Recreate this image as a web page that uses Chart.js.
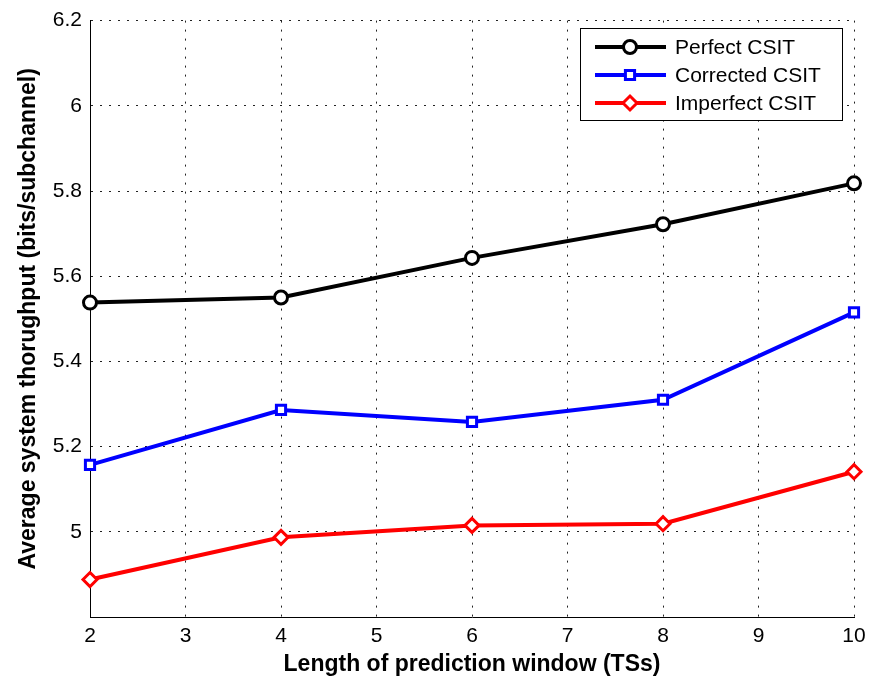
<!DOCTYPE html>
<html>
<head>
<meta charset="utf-8">
<script src="https://cdn.jsdelivr.net/npm/chart.js@4.4.0/dist/chart.umd.min.js"></script>
<style>
  html, body { margin: 0; padding: 0; background: #fff; }
  canvas { display: block; }
</style>
</head>
<body>
<canvas id="myChart" width="877" height="679"></canvas>
<script>
// data
const windowLengths = [2, 4, 6, 8, 10];
const perfectCSIT   = [5.538, 5.550, 5.643, 5.722, 5.818];
const correctedCSIT = [5.157, 5.286, 5.258, 5.310, 5.515];
const imperfectCSIT = [4.888, 4.987, 5.015, 5.019, 5.141];

const FONT = "'Liberation Sans', Arial, Helvetica, sans-serif";

const toPoints = ys => ys.map((y, i) => ({x: windowLengths[i], y: y}));

// MATLAB style legend box drawn inside the plot area
const boxLegend = {
    id: 'boxLegend',
    afterDraw: chart => {
        const ctx = chart.ctx;
        const x0 = 580, y0 = 28, w = 262, h = 92, rowH = 28;
        ctx.save();
        ctx.fillStyle = '#fff';
        ctx.fillRect(x0, y0, w, h);
        ctx.strokeStyle = '#000';
        ctx.lineWidth = 1;
        ctx.strokeRect(x0 + 0.5, y0 + 0.5, w, h);
        chart.data.datasets.forEach((ds, i) => {
            const y = y0 + 19 + i * rowH;
            ctx.beginPath();
            ctx.moveTo(x0 + 15, y);
            ctx.lineTo(x0 + 86, y);
            ctx.strokeStyle = ds.borderColor;
            ctx.lineWidth = 4;
            ctx.stroke();
            ctx.fillStyle = '#fff';
            ctx.lineWidth = ds.pointBorderWidth;
            Chart.helpers.drawPoint(ctx, {
                pointStyle: ds.pointStyle,
                radius: ds.pointRadius,
                borderWidth: ds.pointBorderWidth
            }, x0 + 50, y);
            ctx.fillStyle = '#000';
            ctx.font = '21px ' + FONT;
            ctx.textBaseline = 'middle';
            ctx.fillText(ds.label, x0 + 95, y + 1);
        });
        ctx.restore();
    }
};

function series(label, values, color, style, r) {
    return {
        label: label,
        data: toPoints(values),
        borderColor: color,
        backgroundColor: '#fff',
        pointBackgroundColor: '#fff',
        pointBorderColor: color,
        borderWidth: 4,
        pointStyle: style,
        pointRadius: r,
        pointBorderWidth: 3,
        tension: 0,
        clip: false
    };
}

const data = {
    datasets: [
        series('Perfect CSIT', perfectCSIT, '#000000', 'circle', 6.5),
        series('Corrected CSIT', correctedCSIT, '#0000ff', 'rect', 6.5),
        series('Imperfect CSIT', imperfectCSIT, '#ff0000', 'rectRot', 7)
    ]
};

const config = {
    type: 'line',
    data: data,
    options: {
        responsive: false,
        animation: false,
        layout: { padding: { top: 17, right: 23, left: 0, bottom: 0 } },
        scales: {
            x: {
                type: 'linear',
                min: 2,
                max: 10,
                ticks: {
                    stepSize: 1,
                    color: '#000',
                    padding: 7,
                    maxRotation: 0,
                    font: { family: FONT, size: 21 }
                },
                grid: { color: '#222', lineWidth: 1, drawTicks: false },
                border: { display: true, color: '#000', width: 1, dash: [2, 7] },
                title: {
                    display: true,
                    text: 'Length of prediction window (TSs)',
                    color: '#000',
                    font: { family: FONT, size: 23, weight: 'bold' },
                    padding: { top: 0, bottom: 1 }
                },
                afterFit: scale => { scale.height = 62; }
            },
            y: {
                min: 4.8,
                max: 6.2,
                ticks: {
                    stepSize: 0.2,
                    color: '#000',
                    padding: 8,
                    font: { family: FONT, size: 21 },
                    callback: v => (Math.abs(v - 4.8) < 1e-6 ? null : String(Number(v.toFixed(1))))
                },
                grid: { color: '#222', lineWidth: 1, drawTicks: false },
                border: { display: true, color: '#000', width: 1, dash: [2, 7] },
                title: {
                    display: true,
                    text: 'Average system thorughput (bits/subchannel)',
                    color: '#000',
                    font: { family: FONT, size: 23, weight: 'bold' },
                    padding: { top: 15, bottom: 0 }
                },
                afterFit: scale => { scale.width = 90; }
            }
        },
        plugins: {
            legend: { display: false },
            tooltip: { enabled: false }
        }
    },
    plugins: [boxLegend]
};

const ctx = document.getElementById('myChart').getContext('2d');
const myChart = new Chart(ctx, config);
</script>
</body>
</html>
